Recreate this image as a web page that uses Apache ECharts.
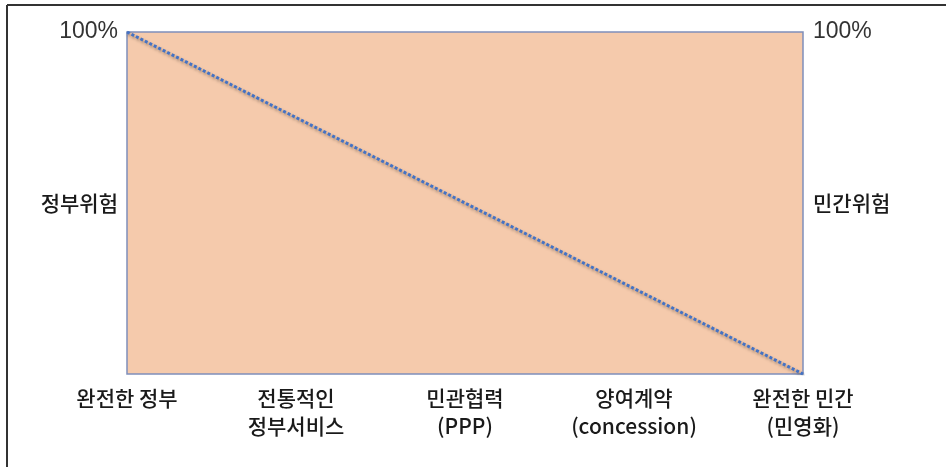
<!DOCTYPE html>
<html><head><meta charset="utf-8">
<script src="https://cdn.jsdelivr.net/npm/echarts@6/dist/echarts.min.js"></script>
<style>html,body{margin:0;padding:0;background:#fff}#c{width:946px;height:467px}</style>
</head><body><div id="c"></div>
<script>
var categories = ['완전한 정부', '전통적인\n정부서비스', '민관협력\n(PPP)', '양여계약\n(concession)', '완전한 민간\n(민영화)'];
var riskLine = [100, null, null, null, 0];
var leftTicks = {50: '정부위험', 100: '100%'};
var rightTicks = {50: '민간위험', 100: '100%'};

var chart = echarts.init(document.getElementById('c'), null, {renderer: 'canvas'});
var kr = '"Noto Sans CJK KR", "Noto Sans", sans-serif';
function yLabel(map, margin) {
  return {
    show: true,
    margin: margin,
    formatter: function (v) {
      var t = map[v];
      if (!t) return '';
      return v === 100 ? '{p|' + t + '}' : '{k|' + t + '}';
    },
    rich: {
      p: {fontFamily: '"Liberation Sans", sans-serif', fontSize: 23, color: '#333'},
      k: {fontFamily: kr, fontSize: 21, fontWeight: 500, color: '#1a1a1a'}
    }
  };
}
chart.setOption({
  animation: false,
  grid: {left: 127, right: 143, top: 32, bottom: 93, show: true,
         backgroundColor: '#F5CAAC', borderColor: '#7F8FBA', borderWidth: 1.5},
  xAxis: {
    type: 'category', data: categories, boundaryGap: false,
    axisLine: {show: false}, axisTick: {show: false}, splitLine: {show: false},
    axisLabel: {color: '#1a1a1a', fontFamily: kr, fontWeight: 500, fontSize: 21, lineHeight: 28, margin: 10, interval: 0}
  },
  yAxis: [
    {type: 'value', min: 0, max: 100, interval: 50, position: 'left',
     axisLine: {show: false}, axisTick: {show: false}, splitLine: {show: false},
     axisLabel: yLabel(leftTicks, 9)},
    {type: 'value', min: 0, max: 100, interval: 50, position: 'right',
     axisLine: {show: false}, axisTick: {show: false}, splitLine: {show: false},
     axisLabel: yLabel(rightTicks, 10)}
  ],
  series: [{
    type: 'line', data: riskLine, connectNulls: true, symbol: 'none',
    lineStyle: {color: '#4472C4', width: 3, type: [3, 2],
                shadowColor: 'rgba(0,0,0,0.35)', shadowBlur: 3, shadowOffsetX: 1, shadowOffsetY: 2}
  }],
  graphic: [
    {type: 'line', shape: {x1: 7, y1: 5, x2: 946, y2: 5}, style: {stroke: '#333', lineWidth: 2}},
    {type: 'line', shape: {x1: 7, y1: 5, x2: 7, y2: 467}, style: {stroke: '#333', lineWidth: 2}}
  ]
});
</script></body></html>
